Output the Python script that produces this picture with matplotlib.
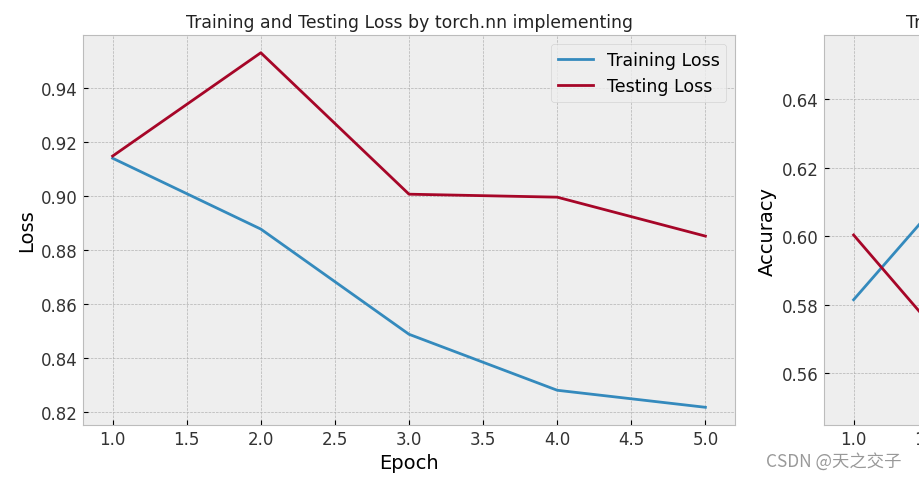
import matplotlib
matplotlib.use("Agg")
import matplotlib.pyplot as plt

plt.style.use("bmh")

epochs = [1, 2, 3, 4, 5]
train_loss = [0.9140, 0.8878, 0.8489, 0.8282, 0.8219]
test_loss = [0.9148, 0.9530, 0.9007, 0.8996, 0.8852]
# only the first part of the accuracy panel is visible, the rest is estimated
train_acc = [0.5814, 0.6310, 0.6400, 0.6535, 0.6480]
test_acc = [0.6003, 0.5500, 0.5800, 0.5700, 0.5900]

fig = plt.figure(figsize=(9.19, 4.81), dpi=100)
ax1 = fig.add_axes([0.0903, 0.1143, 0.7095, 0.8108])
ax2 = fig.add_axes([0.8966, 0.1143, 0.7095, 0.8108])

for ax, tr, te, name in [(ax1, train_loss, test_loss, "Loss"), (ax2, train_acc, test_acc, "Accuracy")]:
    ax.plot(epochs, tr, label="Training " + name)
    ax.plot(epochs, te, label="Testing " + name)
    ax.set_title(f"Training and Testing {name} by torch.nn implementing", fontsize=12.4, color="#222222")
    ax.set_ylabel(name, fontsize=14)
    ax.tick_params(direction="in", labelsize=12, labelcolor="#333333")
    ax.legend(loc="upper right", fontsize=12.5)

ax1.set_xlabel("Epoch", fontsize=14)
ax2.set_xlabel("Epoch", fontsize=14)

fig.text(0.834, 0.03, "CSDN @天之交子", fontsize=12.5, color="#999999",
         family=["Noto Sans CJK SC", "DejaVu Sans"])

fig.savefig("out.png", dpi=100)
